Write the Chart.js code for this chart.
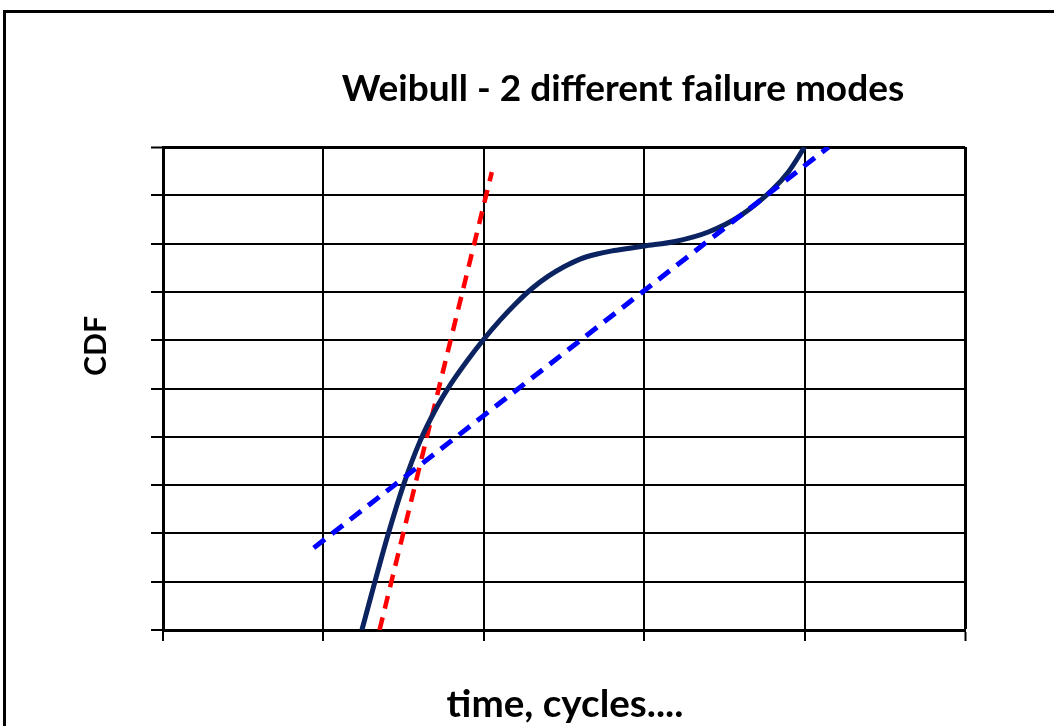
<!DOCTYPE html>
<html>
<head>
<meta charset="utf-8">
<script src="https://cdn.jsdelivr.net/npm/chart.js@4"></script>
<style>
  html, body { margin: 0; padding: 0; background: #fff; overflow: hidden; }
  #frame { position: absolute; left: 3px; top: 10px; width: 1070px; height: 740px; border: 3px solid #000; }
  #wrap { position: absolute; left: 0; top: 0; width: 1054px; height: 726px; }
</style>
</head>
<body>
<div id="frame"></div>
<div id="wrap"><canvas id="chart" width="1054" height="726"></canvas></div>
<script>
/* Weibull plot - two failure modes */

const titleText = 'Weibull - 2 different failure modes';
const xLabel = 'time, cycles....';
const yLabel = 'CDF';

// observed data (combined curve)
const curveX = [1.24, 1.3, 1.4, 1.5, 1.6, 1.7, 1.8, 1.9, 2.0, 2.1, 2.2, 2.3, 2.4, 2.5, 2.6, 2.7, 2.8, 2.9, 3.0, 3.2, 3.4, 3.6, 3.8, 3.9, 4.0];
const curveY = [0, 0.74, 1.94, 3.01, 3.89, 4.57, 5.12, 5.59, 6.02, 6.41, 6.76, 7.07, 7.32, 7.52, 7.68, 7.78, 7.85, 7.90, 7.95, 8.05, 8.24, 8.58, 9.12, 9.49, 10];

// failure mode 1 (steep) and mode 2 (shallow) fits
const mode1X = [1.35, 2.05];
const mode1Y = [0, 9.48];
const mode2X = [0.94, 4.15];
const mode2Y = [1.70, 10];

const pts = (xs, ys) => xs.map((x, i) => ({ x: x, y: ys[i] }));

// draw text so that it spans a given width
function fitText(ctx, text, cx, cy, width) {
    ctx.font = 'bold 30px Lato';
    const size = 30 * width / ctx.measureText(text).width;
    ctx.font = 'bold ' + size.toFixed(1) + 'px Lato';
    ctx.fillText(text, cx, cy);
}

const labelsPlugin = {
    id: 'labels',
    afterDraw(chart) {
        const ctx = chart.ctx;
        ctx.save();
        ctx.fillStyle = '#000';
        ctx.textAlign = 'center';
        ctx.textBaseline = 'middle';
        fitText(ctx, titleText, 623, 89, 563);
        fitText(ctx, xLabel, 565, 705, 237);
        ctx.translate(96, 346);
        ctx.rotate(-Math.PI / 2);
        fitText(ctx, yLabel, 0, 0, 60);
        ctx.restore();
    }
};

new Chart(document.getElementById('chart'), {
    type: 'scatter',
    data: {
        datasets: [
            {
                data: pts(mode2X, mode2Y),
                showLine: true,
                borderColor: '#0000ff',
                borderWidth: 5,
                borderDash: [14, 9],
                pointRadius: 0
            },
            {
                data: pts(curveX, curveY),
                showLine: true,
                borderColor: '#0b2461',
                borderWidth: 5,
                cubicInterpolationMode: 'monotone',
                pointRadius: 0
            },
            {
                data: pts(mode1X, mode1Y),
                showLine: true,
                borderColor: '#ff0000',
                borderWidth: 4.5,
                borderDash: [13, 9],
                pointRadius: 0
            }
        ]
    },
    options: {
        responsive: false,
        animation: false,
        events: [],
        layout: { padding: { top: 147, right: 89, left: 0, bottom: 0 } },
        plugins: { legend: { display: false }, tooltip: { enabled: false } },
        scales: {
            x: {
                type: 'linear',
                min: 0,
                max: 5,
                ticks: { display: false, stepSize: 1 },
                grid: {
                    color: '#000',
                    lineWidth: (c) => (c.index === 5 ? 3 : 2),
                    tickLength: 11,
                    tickWidth: 2
                },
                border: { color: '#000', width: 3 },
                afterFit: (s) => { s.height = 96; }
            },
            y: {
                type: 'linear',
                min: 0,
                max: 10,
                ticks: { display: false, stepSize: 1 },
                grid: {
                    color: '#000',
                    lineWidth: (c) => (c.index === 10 ? 3 : 2),
                    tickLength: 12,
                    tickWidth: 2
                },
                border: { color: '#000', width: 3 },
                afterFit: (s) => { s.width = 163; }
            }
        }
    },
    plugins: [labelsPlugin]
});
</script>
</body>
</html>
